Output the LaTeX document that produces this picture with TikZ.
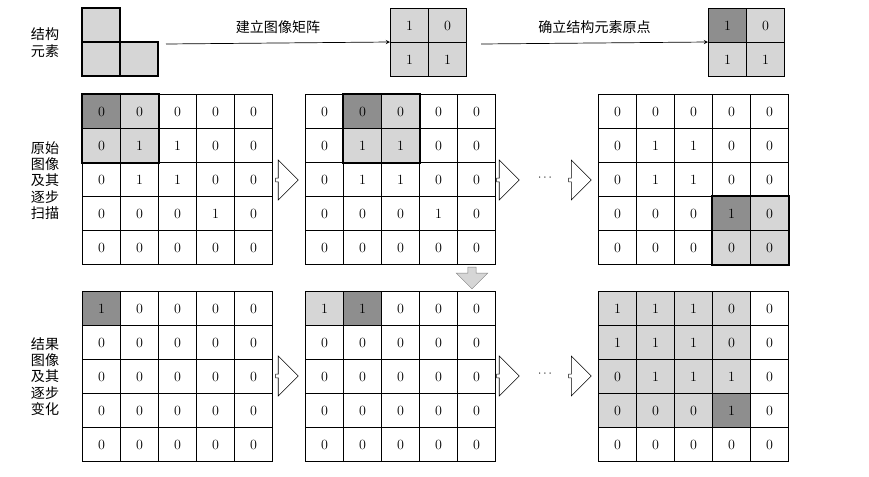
\documentclass[tikz,border=0pt]{standalone}
\usepackage{fontspec}
\newfontfamily\cjk{Noto Sans CJK SC}
\usetikzlibrary{shapes.arrows, positioning, calc}
\definecolor{darkcell}{HTML}{8E8E8E}
\definecolor{lightcell}{HTML}{D6D6D6}
\tikzstyle{cell} = [rectangle, draw, line width=0.9pt, minimum width=1.14cm, minimum height=1.02cm, anchor=north west, inner sep=0pt, font=\large]
\tikzstyle{hollow} = [single arrow, draw, line width=0.5pt, minimum width=1.2cm, minimum height=0.68cm, single arrow head extend=0.25cm, single arrow head indent=0pt, inner sep=0.5pt]
\tikzstyle{arrow} = [line width=0.6pt,->,>=stealth]
\tikzstyle{sidelabel} = [font=\cjk\large, align=center, inner sep=0pt, text depth=0pt]
% grid of 5x5 cells: name, x, y, rows
\newcommand{\cellgrid}[4]{%
  \foreach \rowvals [count=\r from 0] in {#4} {
    \foreach \v [count=\c from 0] in \rowvals {
      \node[cell] (#1-\r-\c) at (#2+\c*38, #3+\r*34) {\v};
    }
  }
}
\newcommand{\cellfill}[5]{\fill[#1] (#2*38+#4, #3*34+#5) rectangle ++(38,34);}
\begin{document}
\begin{tikzpicture}[x=0.03cm, y=-0.03cm]
\useasboundingbox (0,0) rectangle (869,477);

% Structure element
\fill[lightcell] (82,8) rectangle (120,42) (82,42) rectangle (158,76);
\draw[line width=0.9pt] (82,8) rectangle (120,76) (82,42) rectangle (158,76) (120,42) -- (120,76);
\node[sidelabel] (selabel) at (45,42) {结构\\元素};
\node[cell, fill=lightcell] (m1a) at (390,8) {1};
\node[cell, fill=lightcell] (m1b) at (428,8) {0};
\node[cell, fill=lightcell] (m1c) at (390,42) {1};
\node[cell, fill=lightcell] (m1d) at (428,42) {1};
\node[cell, fill=darkcell] (m2a) at (708,8) {1};
\node[cell, fill=lightcell] (m2b) at (746,8) {0};
\node[cell, fill=lightcell] (m2c) at (708,42) {1};
\node[cell, fill=lightcell] (m2d) at (746,42) {1};
\coordinate (se) at (166,44);
\coordinate (mstart) at (481,44);
\draw[arrow] (se) -- node[above=4pt, font=\cjk\large] {建立图像矩阵} (m1c.north west);
\draw[arrow] (mstart) -- node[above=4pt, font=\cjk\large] {确立结构元素原点} (m2c.north west);

% Original image, scanning
\node[sidelabel] (scanlabel) at (45,180) {原始\\图像\\及其\\逐步\\扫描};
\cellfill{darkcell}{0}{0}{82}{94}
\foreach \i/\j in {1/0,0/1,1/1} {\cellfill{lightcell}{\i}{\j}{82}{94}}
\cellfill{darkcell}{1}{0}{305}{94}
\foreach \i/\j in {2/0,1/1,2/1} {\cellfill{lightcell}{\i}{\j}{305}{94}}
\cellfill{darkcell}{3}{3}{598}{94}
\foreach \i/\j in {4/3,3/4,4/4} {\cellfill{lightcell}{\i}{\j}{598}{94}}
\cellgrid{a}{82}{94}{{0,0,0,0,0},{0,1,1,0,0},{0,1,1,0,0},{0,0,0,1,0},{0,0,0,0,0}}
\cellgrid{b}{305}{94}{{0,0,0,0,0},{0,1,1,0,0},{0,1,1,0,0},{0,0,0,1,0},{0,0,0,0,0}}
\cellgrid{c}{598}{94}{{0,0,0,0,0},{0,1,1,0,0},{0,1,1,0,0},{0,0,0,1,0},{0,0,0,0,0}}
\draw[line width=1.6pt] (a-0-0.north west) rectangle (a-1-1.south east);
\draw[line width=1.6pt] (b-0-1.north west) rectangle (b-1-2.south east);
\draw[line width=1.6pt] (c-3-3.north west) rectangle (c-4-4.south east);
\node[hollow] (h1) at (286,180) {};
\node[hollow] (h2) at (507,180) {};
\node[font=\bfseries] (dots1) at (545,178) {$\cdots$};
\node[hollow] (h3) at (579,180) {};
\node[single arrow, draw=gray, fill=lightcell, shape border rotate=270, minimum width=0.95cm, minimum height=0.65cm, single arrow head extend=0.12cm, single arrow head indent=0pt, inner sep=1pt] (down) at (472,276) {};

% Result image
\node[sidelabel] (reslabel) at (45,376) {结果\\图像\\及其\\逐步\\变化};
\cellfill{darkcell}{0}{0}{82}{291}
\cellfill{lightcell}{0}{0}{305}{291}
\cellfill{darkcell}{1}{0}{305}{291}
\foreach \i in {0,...,3} {\foreach \j in {0,...,3} {\cellfill{lightcell}{\i}{\j}{598}{291}}}
\cellfill{darkcell}{3}{3}{598}{291}
\cellgrid{d}{82}{291}{{1,0,0,0,0},{0,0,0,0,0},{0,0,0,0,0},{0,0,0,0,0},{0,0,0,0,0}}
\cellgrid{e}{305}{291}{{1,1,0,0,0},{0,0,0,0,0},{0,0,0,0,0},{0,0,0,0,0},{0,0,0,0,0}}
\cellgrid{f}{598}{291}{{1,1,1,0,0},{1,1,1,0,0},{0,1,1,1,0},{0,0,0,1,0},{0,0,0,0,0}}
\node[hollow] (h4) at (286,376) {};
\node[hollow] (h5) at (507,376) {};
\node[font=\bfseries] (dots2) at (545,374) {$\cdots$};
\node[hollow] (h6) at (579,376) {};
\end{tikzpicture}
\end{document}
